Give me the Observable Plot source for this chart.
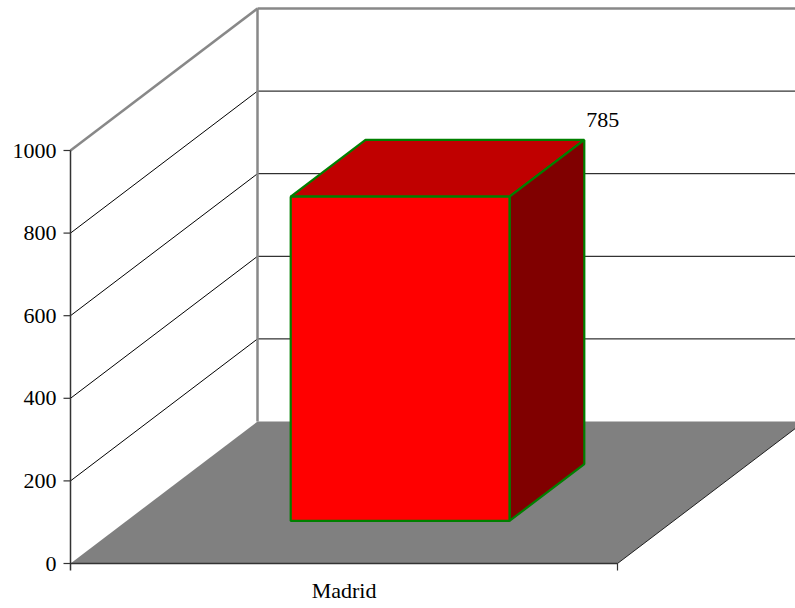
<!DOCTYPE html>
<html>
<head>
<meta charset="utf-8">
<script src="https://cdn.jsdelivr.net/npm/d3@7"></script>
<script src="https://cdn.jsdelivr.net/npm/@observablehq/plot@0.6"></script>
<style>
  html, body { margin: 0; padding: 0; background: white; overflow: hidden; }
</style>
</head>
<body>
<div id="chart"></div>
<script>
// ---- data ----
const categories = ["Madrid"];
const values = [785];
const yTicks = [0, 200, 400, 600, 800, 1000];

// ---- 3D projection (in data units) ----
const DX = 187 / 547;      // depth offset along x (category units)
const DY = 343.8;          // depth offset along y (value units)
const X_MAX = 725 / 547;   // right edge of the plotting area
const Y_MAX = 1343.8;      // top edge of the plotting area
const barHalf = 0.2, d0 = 0.3, d1 = 0.7;

const P = (x, v, d) => ({x: x + DX * d, y: v + DY * d});
const nCat = categories.length;

// floor
const floor = [P(0, 0, 0), P(nCat, 0, 0), P(nCat, 0, 1), P(0, 0, 1)];

// gridlines
const gridVals = yTicks.filter(v => v > 0 && v < 1000);
const leftGrid = gridVals.map(v => ({x1: 0, y1: v, x2: DX, y2: v + DY}));
const backGrid = gridVals.map(v => ({x1: DX, y1: v + DY, x2: X_MAX + 0.1, y2: v + DY}));
const wallEdges = [
  {x1: 0, y1: 1000, x2: DX, y2: 1000 + DY},
  {x1: DX, y1: DY, x2: DX, y2: 1000 + DY},
  {x1: DX, y1: 1000 + DY, x2: X_MAX + 0.1, y2: 1000 + DY}
];

// bars
const fronts = [], tops = [], sides = [], labels = [];
categories.forEach((c, i) => {
  const v = values[i];
  const a = i + 0.5 - barHalf, b = i + 0.5 + barHalf;
  fronts.push([P(a, 0, d0), P(b, 0, d0), P(b, v, d0), P(a, v, d0)].map(p => ({...p, k: c})));
  tops.push([P(a, v, d0), P(b, v, d0), P(b, v, d1), P(a, v, d1)].map(p => ({...p, k: c})));
  sides.push([P(b, 0, d0), P(b, 0, d1), P(b, v, d1), P(b, v, d0)].map(p => ({...p, k: c})));
  labels.push({...P(b, v, d1), text: String(v)});
});

const edge = {stroke: "#008000", strokeWidth: 2.2, strokeLinejoin: "miter", curve: "linear-closed", z: "k"};

const chart = Plot.plot({
  width: 795,
  height: 608,
  marginLeft: 70,
  marginRight: 0,
  marginTop: 8,
  marginBottom: 45,
  x: {domain: [0, X_MAX], axis: null},
  y: {domain: [0, Y_MAX], axis: null},
  style: {fontFamily: "'Liberation Serif', 'Times New Roman', serif", fontSize: "22px", background: "white", color: "black"},
  marks: [
    Plot.line(floor, {x: "x", y: "y", fill: "#808080", stroke: "none", curve: "linear-closed"}),
    Plot.line([P(nCat, 0, 0), P(nCat, 0, 1)], {x: "x", y: "y", stroke: "#202020", strokeWidth: 1}),
    Plot.link(leftGrid, {x1: "x1", y1: "y1", x2: "x2", y2: "y2", stroke: "black", strokeWidth: 1}),
    Plot.link(backGrid, {x1: "x1", y1: "y1", x2: "x2", y2: "y2", stroke: "black", strokeWidth: 1}),
    Plot.link(wallEdges, {x1: "x1", y1: "y1", x2: "x2", y2: "y2", stroke: "#888888", strokeWidth: 2.5}),
    // axes
    Plot.link([{x1: 0, y1: -17, x2: 0, y2: 1000}], {x1: "x1", y1: "y1", x2: "x2", y2: "y2", stroke: "#333", strokeWidth: 1.5}),
    Plot.link([{x1: 0, y1: 0, x2: nCat, y2: 0}], {x1: "x1", y1: "y1", x2: "x2", y2: "y2", stroke: "#333", strokeWidth: 1.5}),
    Plot.link([{x1: nCat, y1: 0, x2: nCat, y2: -17}], {x1: "x1", y1: "y1", x2: "x2", y2: "y2", stroke: "#333", strokeWidth: 1.2}),
    Plot.link(yTicks, {x1: -7 / 547, x2: 0, y1: d => d, y2: d => d, stroke: "#333", strokeWidth: 1.2}),
    Plot.text(yTicks, {x: 0, y: d => d, text: d => String(d), dx: -14, textAnchor: "end", fill: "black"}),
    // bars
    ...tops.map(t => Plot.line(t, {x: "x", y: "y", fill: "#C00000", ...edge})),
    ...sides.map(t => Plot.line(t, {x: "x", y: "y", fill: "#800000", ...edge})),
    ...fronts.map(t => Plot.line(t, {x: "x", y: "y", fill: "#FF0000", ...edge})),
    Plot.text(labels, {x: "x", y: "y", text: "text", dx: 2, dy: -20, textAnchor: "start", fill: "black"}),
    Plot.text(categories, {x: (d, i) => i + 0.5, y: 0, text: d => d, dy: 27, fill: "black"})
  ]
});
document.getElementById("chart").appendChild(chart);
</script>
</body>
</html>
